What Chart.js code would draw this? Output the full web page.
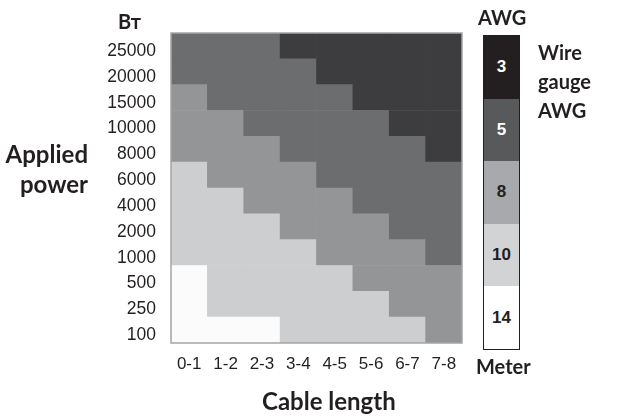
<!DOCTYPE html>
<html>
<head>
<meta charset="utf-8">
<script src="https://cdn.jsdelivr.net/npm/chart.js@4"></script>
<style>
  html, body { margin: 0; padding: 0; background: #fff; }
  #wrap { position: relative; width: 618px; height: 416px; overflow: hidden; }
  #chart { position: absolute; left: 0; top: 0; }
  .lbl { position: absolute; font-family: Lato, "Open Sans", sans-serif; font-weight: 700; font-size: 20px; color: #231f20; white-space: nowrap; line-height: 1; }
  .big { font-size: 24px; }
  #legend { position: absolute; left: 483px; top: 35px; width: 37px; border: 1.5px solid #231f20; box-sizing: border-box; }
  #legend div { height: 62.6px; display: flex; align-items: center; justify-content: center; font-family: "Liberation Sans", Arial, sans-serif; font-weight: 700; font-size: 17px; }
</style>
</head>
<body>
<div id="wrap">
  <canvas id="chart" width="618" height="416"></canvas>
  <div class="lbl" style="left:118px; top:11px;">Вт</div>
  <div class="lbl" style="left:478px; top:7px;">AWG</div>
  <div class="lbl" style="left:538px; top:38px; line-height:29px;">Wire<br>gauge<br>AWG</div>
  <div class="lbl big" style="right:530px; top:139px; line-height:30px; text-align:right;">Applied<br>power</div>
  <div class="lbl" style="left:476px; top:356px;">Meter</div>
  <div class="lbl big" style="left:262px; top:389px;">Cable length</div>
  <div id="legend"></div>
</div>
<script>
// cable length bins (metres)
const lengths = ["0-1", "1-2", "2-3", "3-4", "4-5", "5-6", "6-7", "7-8"];
// applied power rows, top to bottom (W)
const powers = ["25000", "20000", "15000", "10000", "8000", "6000", "4000", "2000", "1000", "500", "250", "100"];

// recommended AWG per row (top to bottom), one value per cable length
const gaugeRows = [
  [5, 5, 5, 3, 3, 3, 3, 3],
  [5, 5, 5, 5, 3, 3, 3, 3],
  [8, 5, 5, 5, 5, 3, 3, 3],
  [8, 8, 5, 5, 5, 5, 3, 3],
  [8, 8, 8, 5, 5, 5, 5, 3],
  [10, 8, 8, 8, 5, 5, 5, 5],
  [10, 10, 8, 8, 8, 5, 5, 5],
  [10, 10, 10, 8, 8, 8, 5, 5],
  [10, 10, 10, 10, 8, 8, 8, 5],
  [14, 10, 10, 10, 10, 8, 8, 8],
  [14, 10, 10, 10, 10, 10, 8, 8],
  [14, 14, 14, 10, 10, 10, 10, 8]
];

const gauges = [3, 5, 8, 10, 14];
const cellColors = ["#3d3d3f", "#6c6d6f", "#949597", "#cdcecf", "#fbfbfb"];
const legendColors = ["#231f20", "#58595b", "#a7a9ac", "#d1d3d4", "#ffffff"];
const legendText = ["#ffffff", "#ffffff", "#231f20", "#231f20", "#231f20"];

// legend bar
const legend = document.getElementById("legend");
gauges.forEach((g, i) => {
  const d = document.createElement("div");
  d.style.background = legendColors[i];
  d.style.color = legendText[i];
  d.textContent = g;
  legend.appendChild(d);
});

function colorFor(gauge) {
  return cellColors[gauges.indexOf(gauge)];
}

// one stacked dataset per power row, bottom row first
const datasets = powers.map((p, i) => {
  const rowIdx = powers.length - 1 - i;
  const row = gaugeRows[rowIdx];
  return {
    label: powers[rowIdx],
    data: row.map(() => 1),
    backgroundColor: ctx => colorFor(row[ctx.dataIndex]),
    borderWidth: 0,
    barPercentage: 1,
    categoryPercentage: 1
  };
});

const framePlugin = {
  id: "frame",
  afterDatasetsDraw(chart) {
    const a = chart.chartArea;
    const c = chart.ctx;
    c.save();
    c.strokeStyle = "#a3a5a7";
    c.lineWidth = 1.5;
    c.strokeRect(a.left, a.top, a.right - a.left, a.bottom - a.top);
    c.restore();
  }
};

const ctx = document.getElementById("chart").getContext("2d");
new Chart(ctx, {
  type: "bar",
  data: { labels: lengths, datasets },
  options: {
    responsive: false,
    animation: false,
    layout: { padding: { top: 33, right: 156, left: 0, bottom: 0 } },
    plugins: { legend: { display: false }, tooltip: { enabled: false } },
    scales: {
      x: {
        stacked: true,
        grid: { display: false, drawTicks: false },
        border: { display: false },
        ticks: {
          color: "#231f20",
          padding: 11,
          font: { family: "Liberation Sans", size: 17 }
        },
        afterFit(scale) { scale.height = 73; }
      },
      y: {
        stacked: true,
        min: 0,
        max: powers.length,
        grid: { display: false, drawTicks: false },
        border: { display: false },
        // labels sit a little below the row centres in the original
        afterBuildTicks(scale) {
          scale.ticks = powers.map((p, i) => ({ value: i + 0.3 }));
        },
        ticks: {
          color: "#231f20",
          padding: 15,
          font: { family: "Liberation Sans", size: 17.5 },
          callback: (value, index) => powers[powers.length - 1 - index]
        },
        afterFit(scale) { scale.width = 171; }
      }
    }
  },
  plugins: [framePlugin]
});
</script>
</body>
</html>
